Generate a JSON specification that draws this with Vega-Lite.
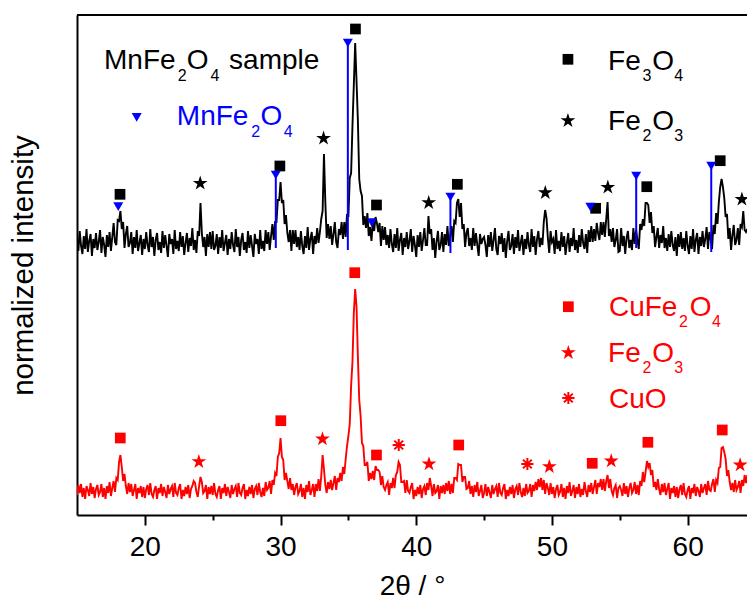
{
  "$schema": "https://vega.github.io/schema/vega-lite/v6.json",
  "width": 670,
  "height": 500,
  "autosize": {"type": "none"},
  "padding": {"left": 77, "top": 15, "right": 0, "bottom": 86},
  "background": "white",
  "config": {"view": {"stroke": null}, "font": "Liberation Sans"},
  "datasets": {
    "scan": [
      {"x":15.0,"k":277,"r":20},{"x":15.1,"k":264,"r":30},{"x":15.2,"k":284,"r":22},{"x":15.3,"k":269,"r":31},{"x":15.4,"k":261,"r":18},
      {"x":15.5,"k":279,"r":27},{"x":15.6,"k":266,"r":16},{"x":15.7,"k":286,"r":29},{"x":15.8,"k":263,"r":25},{"x":15.9,"k":274,"r":19},
      {"x":16.0,"k":281,"r":32},{"x":16.1,"k":259,"r":21},{"x":16.2,"k":276,"r":28},{"x":16.3,"k":267,"r":17},{"x":16.4,"k":282,"r":26},
      {"x":16.5,"k":265,"r":30},{"x":16.6,"k":273,"r":20},{"x":16.7,"k":285,"r":23},{"x":16.8,"k":262,"r":31},{"x":16.9,"k":278,"r":18},
      {"x":17.0,"k":270,"r":27},{"x":17.1,"k":258,"r":16},{"x":17.2,"k":280,"r":29},{"x":17.3,"k":268,"r":22},{"x":17.4,"k":283,"r":33},
      {"x":17.5,"k":264,"r":19},{"x":17.6,"k":278,"r":27},{"x":17.7,"k":292,"r":34},{"x":17.8,"k":273,"r":23},{"x":17.9,"k":270,"r":37},
      {"x":18.0,"k":295,"r":35},{"x":18.1,"k":294,"r":53},{"x":18.2,"k":304,"r":60},{"x":18.3,"k":286,"r":48},{"x":18.4,"k":293,"r":34},
      {"x":18.5,"k":267,"r":41},{"x":18.6,"k":281,"r":29},{"x":18.7,"k":289,"r":21},{"x":18.8,"k":268,"r":32},{"x":18.9,"k":272,"r":23},
      {"x":19.0,"k":283,"r":31},{"x":19.1,"k":261,"r":19},{"x":19.2,"k":278,"r":25},{"x":19.3,"k":267,"r":31},{"x":19.4,"k":285,"r":16},
      {"x":19.5,"k":264,"r":27},{"x":19.6,"k":272,"r":22},{"x":19.7,"k":280,"r":29},{"x":19.8,"k":260,"r":18},{"x":19.9,"k":276,"r":28},
      {"x":20.0,"k":266,"r":17},{"x":20.1,"k":283,"r":26},{"x":20.2,"k":270,"r":30},{"x":20.3,"k":263,"r":20},{"x":20.4,"k":286,"r":32},
      {"x":20.5,"k":268,"r":21},{"x":20.6,"k":278,"r":18},{"x":20.7,"k":259,"r":25},{"x":20.8,"k":275,"r":29},{"x":20.9,"k":282,"r":16},
      {"x":21.0,"k":265,"r":27},{"x":21.1,"k":273,"r":22},{"x":21.2,"k":262,"r":31},{"x":21.3,"k":284,"r":19},{"x":21.4,"k":267,"r":28},
      {"x":21.5,"k":280,"r":23},{"x":21.6,"k":269,"r":17},{"x":21.7,"k":258,"r":30},{"x":21.8,"k":281,"r":21},{"x":21.9,"k":271,"r":26},
      {"x":22.0,"k":276,"r":29},{"x":22.1,"k":261,"r":18},{"x":22.2,"k":285,"r":32},{"x":22.3,"k":266,"r":22},{"x":22.4,"k":274,"r":20},
      {"x":22.5,"k":264,"r":27},{"x":22.6,"k":283,"r":31},{"x":22.7,"k":268,"r":16},{"x":22.8,"k":279,"r":25},{"x":22.9,"k":260,"r":19},
      {"x":23.0,"k":272,"r":28},{"x":23.1,"k":282,"r":21},{"x":23.2,"k":263,"r":30},{"x":23.3,"k":277,"r":17},{"x":23.4,"k":269,"r":26},
      {"x":23.5,"k":287,"r":29},{"x":23.6,"k":265,"r":34},{"x":23.7,"k":275,"r":32},{"x":23.8,"k":262,"r":23},{"x":23.9,"k":284,"r":18},
      {"x":24.0,"k":279,"r":29},{"x":24.1,"k":312,"r":38},{"x":24.2,"k":282,"r":33},{"x":24.3,"k":268,"r":22},{"x":24.4,"k":278,"r":24},
      {"x":24.5,"k":259,"r":30},{"x":24.6,"k":281,"r":16},{"x":24.7,"k":268,"r":28},{"x":24.8,"k":283,"r":21},{"x":24.9,"k":266,"r":29},
      {"x":25.0,"k":284,"r":20},{"x":25.1,"k":265,"r":32},{"x":25.2,"k":269,"r":21},{"x":25.3,"k":281,"r":18},{"x":25.4,"k":261,"r":25},
      {"x":25.5,"k":278,"r":29},{"x":25.6,"k":267,"r":16},{"x":25.7,"k":285,"r":27},{"x":25.8,"k":264,"r":22},{"x":25.9,"k":272,"r":31},
      {"x":26.0,"k":280,"r":19},{"x":26.1,"k":260,"r":28},{"x":26.2,"k":276,"r":23},{"x":26.3,"k":266,"r":17},{"x":26.4,"k":283,"r":30},
      {"x":26.5,"k":270,"r":21},{"x":26.6,"k":263,"r":26},{"x":26.7,"k":286,"r":29},{"x":26.8,"k":268,"r":18},{"x":26.9,"k":278,"r":32},
      {"x":27.0,"k":259,"r":22},{"x":27.1,"k":275,"r":20},{"x":27.2,"k":282,"r":27},{"x":27.3,"k":265,"r":31},{"x":27.4,"k":273,"r":16},
      {"x":27.5,"k":262,"r":25},{"x":27.6,"k":284,"r":19},{"x":27.7,"k":267,"r":28},{"x":27.8,"k":280,"r":21},{"x":27.9,"k":269,"r":30},
      {"x":28.0,"k":258,"r":17},{"x":28.1,"k":281,"r":26},{"x":28.2,"k":271,"r":29},{"x":28.3,"k":276,"r":20},{"x":28.4,"k":261,"r":32},
      {"x":28.5,"k":285,"r":23},{"x":28.6,"k":266,"r":18},{"x":28.7,"k":274,"r":27},{"x":28.8,"k":264,"r":19},{"x":28.9,"k":285,"r":33},
      {"x":29.0,"k":271,"r":25},{"x":29.1,"k":283,"r":27},{"x":29.2,"k":265,"r":34},{"x":29.3,"k":279,"r":21},{"x":29.4,"k":291,"r":35},
      {"x":29.5,"k":275,"r":30},{"x":29.6,"k":293,"r":42},{"x":29.7,"k":293,"r":39},{"x":29.8,"k":315,"r":58},{"x":29.9,"k":315,"r":62},
      {"x":30.0,"k":333,"r":77},{"x":30.1,"k":312,"r":58},{"x":30.2,"k":315,"r":55},{"x":30.3,"k":291,"r":35},{"x":30.4,"k":300,"r":42},
      {"x":30.5,"k":282,"r":34},{"x":30.6,"k":273,"r":26},{"x":30.7,"k":285,"r":37},{"x":30.8,"k":264,"r":25},{"x":30.9,"k":285,"r":31},
      {"x":31.0,"k":271,"r":20},{"x":31.1,"k":285,"r":28},{"x":31.2,"k":268,"r":32},{"x":31.3,"k":278,"r":21},{"x":31.4,"k":265,"r":24},
      {"x":31.5,"k":284,"r":31},{"x":31.6,"k":269,"r":18},{"x":31.7,"k":261,"r":27},{"x":31.8,"k":279,"r":16},{"x":31.9,"k":267,"r":30},
      {"x":32.0,"k":288,"r":23},{"x":32.1,"k":265,"r":34},{"x":32.2,"k":276,"r":20},{"x":32.3,"k":283,"r":25},{"x":32.4,"k":261,"r":31},
      {"x":32.5,"k":279,"r":18},{"x":32.6,"k":271,"r":31},{"x":32.7,"k":287,"r":24},{"x":32.8,"k":272,"r":36},{"x":32.9,"k":283,"r":24},
      {"x":33.0,"k":296,"r":39},{"x":33.1,"k":304,"r":60},{"x":33.2,"k":361,"r":46},{"x":33.3,"k":313,"r":30},{"x":33.4,"k":277,"r":22},
      {"x":33.5,"k":291,"r":33},{"x":33.6,"k":276,"r":26},{"x":33.7,"k":289,"r":35},{"x":33.8,"k":270,"r":25},{"x":33.9,"k":281,"r":32},
      {"x":34.0,"k":293,"r":39},{"x":34.1,"k":273,"r":25},{"x":34.2,"k":267,"r":37},{"x":34.3,"k":286,"r":33},{"x":34.4,"k":280,"r":42},
      {"x":34.5,"k":293,"r":34},{"x":34.6,"k":276,"r":48},{"x":34.7,"k":293,"r":41},{"x":34.8,"k":278,"r":56},{"x":34.9,"k":301,"r":69},
      {"x":35.0,"k":298,"r":79},{"x":35.1,"k":337,"r":91},{"x":35.2,"k":342,"r":129},{"x":35.3,"k":389,"r":153},{"x":35.4,"k":430,"r":202},
      {"x":35.5,"k":472,"r":226},{"x":35.6,"k":434,"r":208},{"x":35.7,"k":394,"r":158},{"x":35.8,"k":336,"r":115},{"x":35.9,"k":324,"r":99},
      {"x":36.0,"k":319,"r":72},{"x":36.1,"k":290,"r":69},{"x":36.2,"k":299,"r":50},{"x":36.3,"k":287,"r":50},{"x":36.4,"k":302,"r":53},
      {"x":36.5,"k":279,"r":34},{"x":36.6,"k":288,"r":42},{"x":36.7,"k":274,"r":36},{"x":36.8,"k":293,"r":44},{"x":36.9,"k":284,"r":35},
      {"x":37.0,"k":298,"r":49},{"x":37.1,"k":292,"r":45},{"x":37.2,"k":283,"r":45},{"x":37.3,"k":292,"r":43},{"x":37.4,"k":269,"r":30},
      {"x":37.5,"k":289,"r":39},{"x":37.6,"k":275,"r":28},{"x":37.7,"k":288,"r":25},{"x":37.8,"k":270,"r":30},{"x":37.9,"k":280,"r":33},
      {"x":38.0,"k":267,"r":20},{"x":38.1,"k":286,"r":32},{"x":38.2,"k":271,"r":27},{"x":38.3,"k":263,"r":37},{"x":38.4,"k":281,"r":27},
      {"x":38.5,"k":267,"r":40},{"x":38.6,"k":287,"r":43},{"x":38.7,"k":264,"r":53},{"x":38.8,"k":275,"r":50},{"x":38.9,"k":282,"r":33},
      {"x":39.0,"k":260,"r":33},{"x":39.1,"k":277,"r":34},{"x":39.2,"k":268,"r":22},{"x":39.3,"k":283,"r":35},{"x":39.4,"k":266,"r":24},
      {"x":39.5,"k":274,"r":22},{"x":39.6,"k":286,"r":28},{"x":39.7,"k":263,"r":32},{"x":39.8,"k":279,"r":16},{"x":39.9,"k":270,"r":25},
      {"x":40.0,"k":258,"r":19},{"x":40.1,"k":280,"r":28},{"x":40.2,"k":268,"r":21},{"x":40.3,"k":283,"r":30},{"x":40.4,"k":264,"r":17},
      {"x":40.5,"k":275,"r":26},{"x":40.6,"k":287,"r":29},{"x":40.7,"k":270,"r":20},{"x":40.8,"k":270,"r":32},{"x":40.9,"k":299,"r":25},
      {"x":41.0,"k":281,"r":37},{"x":41.1,"k":286,"r":29},{"x":41.2,"k":265,"r":19},{"x":41.3,"k":277,"r":31},{"x":41.4,"k":257,"r":22},
      {"x":41.5,"k":274,"r":24},{"x":41.6,"k":284,"r":30},{"x":41.7,"k":265,"r":16},{"x":41.8,"k":270,"r":29},{"x":41.9,"k":283,"r":22},
      {"x":42.0,"k":263,"r":30},{"x":42.1,"k":281,"r":21},{"x":42.2,"k":270,"r":32},{"x":42.3,"k":289,"r":24},{"x":42.4,"k":269,"r":34},
      {"x":42.5,"k":279,"r":21},{"x":42.6,"k":289,"r":31},{"x":42.7,"k":273,"r":22},{"x":42.8,"k":294,"r":37},{"x":42.9,"k":292,"r":37},
      {"x":43.0,"k":312,"r":35},{"x":43.1,"k":316,"r":51},{"x":43.2,"k":298,"r":50},{"x":43.3,"k":312,"r":50},{"x":43.4,"k":286,"r":33},
      {"x":43.5,"k":291,"r":38},{"x":43.6,"k":268,"r":38},{"x":43.7,"k":282,"r":26},{"x":43.8,"k":287,"r":27},{"x":43.9,"k":269,"r":34},
      {"x":44.0,"k":277,"r":21},{"x":44.1,"k":265,"r":29},{"x":44.2,"k":287,"r":18},{"x":44.3,"k":269,"r":30},{"x":44.4,"k":282,"r":23},
      {"x":44.5,"k":270,"r":33},{"x":44.6,"k":259,"r":19},{"x":44.7,"k":281,"r":24},{"x":44.8,"k":271,"r":30},{"x":44.9,"k":276,"r":17},
      {"x":45.0,"k":278,"r":22},{"x":45.1,"k":270,"r":31},{"x":45.2,"k":258,"r":19},{"x":45.3,"k":280,"r":28},{"x":45.4,"k":268,"r":23},
      {"x":45.5,"k":283,"r":17},{"x":45.6,"k":264,"r":30},{"x":45.7,"k":275,"r":21},{"x":45.8,"k":287,"r":26},{"x":45.9,"k":266,"r":29},
      {"x":46.0,"k":260,"r":18},{"x":46.1,"k":279,"r":32},{"x":46.2,"k":271,"r":22},{"x":46.3,"k":282,"r":20},{"x":46.4,"k":263,"r":27},
      {"x":46.5,"k":277,"r":31},{"x":46.6,"k":257,"r":16},{"x":46.7,"k":274,"r":25},{"x":46.8,"k":284,"r":19},{"x":46.9,"k":265,"r":28},
      {"x":47.0,"k":269,"r":21},{"x":47.1,"k":281,"r":30},{"x":47.2,"k":261,"r":17},{"x":47.3,"k":278,"r":26},{"x":47.4,"k":267,"r":29},
      {"x":47.5,"k":285,"r":20},{"x":47.6,"k":264,"r":32},{"x":47.7,"k":272,"r":23},{"x":47.8,"k":280,"r":18},{"x":47.9,"k":260,"r":27},
      {"x":48.0,"k":276,"r":19},{"x":48.1,"k":266,"r":31},{"x":48.2,"k":283,"r":22},{"x":48.3,"k":270,"r":24},{"x":48.4,"k":263,"r":31},
      {"x":48.5,"k":286,"r":18},{"x":48.6,"k":268,"r":30},{"x":48.7,"k":279,"r":24},{"x":48.8,"k":260,"r":33},{"x":48.9,"k":276,"r":25},
      {"x":49.0,"k":284,"r":36},{"x":49.1,"k":268,"r":28},{"x":49.2,"k":277,"r":37},{"x":49.3,"k":270,"r":25},{"x":49.4,"k":293,"r":35},
      {"x":49.5,"k":305,"r":21},{"x":49.6,"k":297,"r":32},{"x":49.7,"k":277,"r":27},{"x":49.8,"k":262,"r":20},{"x":49.9,"k":284,"r":32},
      {"x":50.0,"k":273,"r":21},{"x":50.1,"k":276,"r":28},{"x":50.2,"k":261,"r":17},{"x":50.3,"k":285,"r":26},{"x":50.4,"k":266,"r":30},
      {"x":50.5,"k":274,"r":20},{"x":50.6,"k":264,"r":23},{"x":50.7,"k":283,"r":31},{"x":50.8,"k":268,"r":18},{"x":50.9,"k":279,"r":27},
      {"x":51.0,"k":260,"r":16},{"x":51.1,"k":272,"r":29},{"x":51.2,"k":282,"r":22},{"x":51.3,"k":263,"r":33},{"x":51.4,"k":277,"r":19},
      {"x":51.5,"k":269,"r":24},{"x":51.6,"k":287,"r":30},{"x":51.7,"k":265,"r":17},{"x":51.8,"k":275,"r":28},{"x":51.9,"k":262,"r":21},
      {"x":52.0,"k":280,"r":31},{"x":52.1,"k":268,"r":18},{"x":52.2,"k":286,"r":26},{"x":52.3,"k":272,"r":20},{"x":52.4,"k":266,"r":33},
      {"x":52.5,"k":281,"r":24},{"x":52.6,"k":262,"r":18},{"x":52.7,"k":285,"r":30},{"x":52.8,"k":273,"r":23},{"x":52.9,"k":289,"r":32},
      {"x":53.0,"k":273,"r":21},{"x":53.1,"k":286,"r":28},{"x":53.2,"k":274,"r":35},{"x":53.3,"k":292,"r":21},{"x":53.4,"k":282,"r":32},
      {"x":53.5,"k":275,"r":28},{"x":53.6,"k":293,"r":36},{"x":53.7,"k":280,"r":25},{"x":53.8,"k":293,"r":36},{"x":53.9,"k":278,"r":24},
      {"x":54.0,"k":296,"r":34},{"x":54.1,"k":313,"r":40},{"x":54.2,"k":279,"r":27},{"x":54.3,"k":286,"r":36},{"x":54.4,"k":273,"r":24},
      {"x":54.5,"k":287,"r":20},{"x":54.6,"k":268,"r":27},{"x":54.7,"k":275,"r":30},{"x":54.8,"k":286,"r":17},{"x":54.9,"k":263,"r":27},
      {"x":55.0,"k":264,"r":29},{"x":55.1,"k":287,"r":25},{"x":55.2,"k":269,"r":19},{"x":55.3,"k":279,"r":32},{"x":55.4,"k":261,"r":21},
      {"x":55.5,"k":277,"r":29},{"x":55.6,"k":284,"r":18},{"x":55.7,"k":267,"r":27},{"x":55.8,"k":275,"r":32},{"x":55.9,"k":265,"r":22},
      {"x":56.0,"k":287,"r":25},{"x":56.1,"k":271,"r":33},{"x":56.2,"k":285,"r":21},{"x":56.3,"k":275,"r":30},{"x":56.4,"k":266,"r":20},
      {"x":56.5,"k":291,"r":34},{"x":56.6,"k":285,"r":29},{"x":56.7,"k":296,"r":43},{"x":56.8,"k":289,"r":33},{"x":56.9,"k":312,"r":43},
      {"x":57.0,"k":312,"r":54},{"x":57.1,"k":310,"r":48},{"x":57.2,"k":292,"r":52},{"x":57.3,"k":303,"r":40},{"x":57.4,"k":282,"r":45},
      {"x":57.5,"k":289,"r":28},{"x":57.6,"k":268,"r":33},{"x":57.7,"k":278,"r":25},{"x":57.8,"k":287,"r":36},{"x":57.9,"k":267,"r":26},
      {"x":58.0,"k":280,"r":20},{"x":58.1,"k":272,"r":31},{"x":58.2,"k":289,"r":23},{"x":58.3,"k":267,"r":32},{"x":58.4,"k":277,"r":20},
      {"x":58.5,"k":264,"r":26},{"x":58.6,"k":281,"r":32},{"x":58.7,"k":268,"r":16},{"x":58.8,"k":284,"r":27},{"x":58.9,"k":270,"r":22},
      {"x":59.0,"k":264,"r":29},{"x":59.1,"k":278,"r":18},{"x":59.2,"k":259,"r":28},{"x":59.3,"k":281,"r":17},{"x":59.4,"k":268,"r":26},
      {"x":59.5,"k":283,"r":30},{"x":59.6,"k":266,"r":20},{"x":59.7,"k":277,"r":32},{"x":59.8,"k":264,"r":21},{"x":59.9,"k":284,"r":18},
      {"x":60.0,"k":269,"r":25},{"x":60.1,"k":261,"r":29},{"x":60.2,"k":279,"r":16},{"x":60.3,"k":266,"r":27},{"x":60.4,"k":286,"r":22},
      {"x":60.5,"k":263,"r":31},{"x":60.6,"k":275,"r":19},{"x":60.7,"k":282,"r":28},{"x":60.8,"k":261,"r":24},{"x":60.9,"k":278,"r":18},
      {"x":61.0,"k":269,"r":31},{"x":61.1,"k":284,"r":22},{"x":61.2,"k":268,"r":27},{"x":61.3,"k":276,"r":31},{"x":61.4,"k":288,"r":20},
      {"x":61.5,"k":266,"r":34},{"x":61.6,"k":283,"r":25},{"x":61.7,"k":276,"r":24},{"x":61.8,"k":266,"r":31},{"x":61.9,"k":290,"r":36},
      {"x":62.0,"k":281,"r":23},{"x":62.1,"k":302,"r":35},{"x":62.2,"k":291,"r":32},{"x":62.3,"k":313,"r":47},{"x":62.4,"k":328,"r":48},
      {"x":62.5,"k":336,"r":67},{"x":62.6,"k":328,"r":68},{"x":62.7,"k":317,"r":63},{"x":62.8,"k":298,"r":56},{"x":62.9,"k":301,"r":39},
      {"x":63.0,"k":276,"r":45},{"x":63.1,"k":287,"r":33},{"x":63.2,"k":265,"r":25},{"x":63.3,"k":280,"r":32},{"x":63.4,"k":290,"r":23},
      {"x":63.5,"k":270,"r":35},{"x":63.6,"k":275,"r":25},{"x":63.7,"k":287,"r":28},{"x":63.8,"k":270,"r":34},{"x":63.9,"k":291,"r":22},
      {"x":64.0,"k":288,"r":35},{"x":64.1,"k":304,"r":29},{"x":64.2,"k":285,"r":40},{"x":64.3,"k":283,"r":32},{"x":64.4,"k":286,"r":40}
    ],
    "refs": [
      {"x":29.65,"lo":267,"hi":340},
      {"x":34.96,"lo":265,"hi":472},
      {"x":42.52,"lo":262,"hi":318},
      {"x":56.21,"lo":267,"hi":339},
      {"x":61.74,"lo":263,"hi":349}
    ],
    "peaks": [
      {"x":18.17,"y":320.7,"ph":"Fe3O4","g":"mn"},
      {"x":29.95,"y":349,"ph":"Fe3O4","g":"mn"},
      {"x":35.52,"y":486,"ph":"Fe3O4","g":"mn"},
      {"x":37.07,"y":310,"ph":"Fe3O4","g":"mn"},
      {"x":43.03,"y":330.7,"ph":"Fe3O4","g":"mn"},
      {"x":53.22,"y":306.7,"ph":"Fe3O4","g":"mn"},
      {"x":56.99,"y":328.3,"ph":"Fe3O4","g":"mn"},
      {"x":62.40,"y":354.3,"ph":"Fe3O4","g":"mn"},
      {"x":24.08,"y":331.7,"ph":"Fe2O3","g":"mn"},
      {"x":33.17,"y":376.7,"ph":"Fe2O3","g":"mn"},
      {"x":40.92,"y":312.3,"ph":"Fe2O3","g":"mn"},
      {"x":49.51,"y":322.3,"ph":"Fe2O3","g":"mn"},
      {"x":54.12,"y":327.7,"ph":"Fe2O3","g":"mn"},
      {"x":64.0,"y":315.7,"ph":"Fe2O3","g":"mn"},
      {"x":18.04,"y":308.3,"ph":"MnFe2O4","g":"ref"},
      {"x":29.65,"y":340,"ph":"MnFe2O4","g":"ref"},
      {"x":34.96,"y":472,"ph":"MnFe2O4","g":"ref"},
      {"x":36.72,"y":292.3,"ph":"MnFe2O4","g":"ref"},
      {"x":42.52,"y":318,"ph":"MnFe2O4","g":"ref"},
      {"x":52.83,"y":308,"ph":"MnFe2O4","g":"ref"},
      {"x":56.21,"y":339,"ph":"MnFe2O4","g":"ref"},
      {"x":61.74,"y":349,"ph":"MnFe2O4","g":"ref"},
      {"x":18.19,"y":77,"ph":"CuFe2O4","g":"cu"},
      {"x":30.02,"y":94.3,"ph":"CuFe2O4","g":"cu"},
      {"x":35.47,"y":242.3,"ph":"CuFe2O4","g":"cu"},
      {"x":37.07,"y":60,"ph":"CuFe2O4","g":"cu"},
      {"x":43.13,"y":70,"ph":"CuFe2O4","g":"cu"},
      {"x":52.97,"y":51.7,"ph":"CuFe2O4","g":"cu"},
      {"x":57.07,"y":72.7,"ph":"CuFe2O4","g":"cu"},
      {"x":62.55,"y":85,"ph":"CuFe2O4","g":"cu"},
      {"x":23.98,"y":53.3,"ph":"Fe2O3","g":"cu"},
      {"x":33.09,"y":76,"ph":"Fe2O3","g":"cu"},
      {"x":40.94,"y":51,"ph":"Fe2O3","g":"cu"},
      {"x":49.81,"y":48.3,"ph":"Fe2O3","g":"cu"},
      {"x":54.37,"y":54,"ph":"Fe2O3","g":"cu"},
      {"x":63.87,"y":50,"ph":"Fe2O3","g":"cu"},
      {"x":38.71,"y":70,"ph":"CuO","g":"cu"},
      {"x":48.19,"y":51,"ph":"CuO","g":"cu"},
      {"x":19.40,"y":397.7,"ph":"MnFe2O4","g":"ref"},
      {"x":51.18,"y":455.7,"ph":"Fe3O4","g":"mn"},
      {"x":51.18,"y":394.3,"ph":"Fe2O3","g":"mn"},
      {"x":51.21,"y":208.3,"ph":"CuFe2O4","g":"cu"},
      {"x":51.21,"y":162.3,"ph":"Fe2O3","g":"cu"},
      {"x":51.21,"y":117,"ph":"CuO","g":"cu"}
    ],
    "labels": [
      {"x":16.99,"y":446,"s":"MnFe","g":"mn","lvl":"main"},
      {"x":22.42,"y":434.3,"s":"2","g":"mn","lvl":"sub"},
      {"x":23.09,"y":446,"s":"O","g":"mn","lvl":"main"},
      {"x":24.83,"y":434.3,"s":"4","g":"mn","lvl":"sub"},
      {"x":26.21,"y":446,"s":"sample","g":"mn","lvl":"main"},
      {"x":22.36,"y":390,"s":"MnFe","g":"ref","lvl":"main"},
      {"x":27.85,"y":378.3,"s":"2","g":"ref","lvl":"sub"},
      {"x":28.52,"y":390,"s":"O","g":"ref","lvl":"main"},
      {"x":30.23,"y":378.3,"s":"4","g":"ref","lvl":"sub"},
      {"x":54.14,"y":445,"s":"Fe","g":"mn","lvl":"main"},
      {"x":56.68,"y":434.3,"s":"3","g":"mn","lvl":"sub"},
      {"x":57.39,"y":445,"s":"O","g":"mn","lvl":"main"},
      {"x":59.02,"y":434.3,"s":"4","g":"mn","lvl":"sub"},
      {"x":54.14,"y":385,"s":"Fe","g":"mn","lvl":"main"},
      {"x":56.68,"y":374,"s":"2","g":"mn","lvl":"sub"},
      {"x":57.39,"y":385,"s":"O","g":"mn","lvl":"main"},
      {"x":59.02,"y":374,"s":"3","g":"mn","lvl":"sub"},
      {"x":54.20,"y":199,"s":"CuFe","g":"cu","lvl":"main"},
      {"x":59.37,"y":187.7,"s":"2","g":"cu","lvl":"sub"},
      {"x":60.16,"y":199,"s":"O","g":"cu","lvl":"main"},
      {"x":61.80,"y":187.7,"s":"4","g":"cu","lvl":"sub"},
      {"x":54.14,"y":153.3,"s":"Fe","g":"cu","lvl":"main"},
      {"x":56.68,"y":142.3,"s":"2","g":"cu","lvl":"sub"},
      {"x":57.39,"y":153.3,"s":"O","g":"cu","lvl":"main"},
      {"x":59.02,"y":142.3,"s":"3","g":"cu","lvl":"sub"},
      {"x":54.20,"y":107,"s":"CuO","g":"cu","lvl":"main"}
    ]
  },
  "layer": [
    {
      "data": {"name": "scan"},
      "mark": {"type": "line", "color": "#000000", "strokeWidth": 1.9, "clip": true},
      "encoding": {
        "x": {
          "field": "x", "type": "quantitative", "title": "2θ / °",
          "scale": {"domain": [15, 64.375], "nice": false, "zero": false},
          "axis": {
            "values": [20, 25, 30, 35, 40, 45, 50, 55, 60],
            "labelExpr": "datum.value % 10 === 0 ? datum.label : ''",
            "tickSize": {"condition": {"test": "datum.value % 10 === 0", "value": 10}, "value": 5},
            "tickWidth": 2, "tickColor": "#000000",
            "domainColor": "#000000", "domainWidth": 2,
            "grid": false,
            "labelFont": "Liberation Sans", "labelFontSize": 28, "labelColor": "#000000",
            "labelPadding": 8, "labelFlush": false, "labelOverlap": false,
            "titleFont": "Liberation Sans", "titleFontSize": 28, "titleFontWeight": "normal",
            "titleColor": "#000000", "titleBaseline": "alphabetic", "titleY": 79
          }
        },
        "y": {
          "field": "k", "type": "quantitative", "title": "normalized intensity",
          "scale": {"domain": [0, 500], "nice": false, "zero": false},
          "axis": {
            "labels": false, "ticks": false, "grid": false,
            "domainColor": "#000000", "domainWidth": 2,
            "titleFont": "Liberation Sans", "titleFontSize": 29.5, "titleFontWeight": "normal",
            "titleColor": "#000000", "titleBaseline": "alphabetic", "titleAlign": "center",
            "titleAngle": 270, "titleX": -45, "titleY": 250
          }
        }
      }
    },
    {
      "data": {"name": "scan"},
      "mark": {"type": "line", "color": "#ff0000", "strokeWidth": 1.9, "clip": true},
      "encoding": {
        "x": {"field": "x", "type": "quantitative", "title": "2θ / °"},
        "y": {"field": "r", "type": "quantitative", "title": "normalized intensity"}
      }
    },
    {
      "data": {"name": "refs"},
      "mark": {"type": "rule", "color": "#0000ff", "strokeWidth": 2},
      "encoding": {
        "x": {"field": "x", "type": "quantitative", "title": "2θ / °"},
        "y": {"field": "lo", "type": "quantitative", "title": "normalized intensity"},
        "y2": {"field": "hi"}
      }
    },
    {
      "data": {"name": "peaks"},
      "transform": [{"filter": "datum.ph === 'Fe3O4' || datum.ph === 'CuFe2O4'"}],
      "mark": {"type": "point", "shape": "square", "filled": true, "opacity": 1, "size": 115, "strokeWidth": 0},
      "encoding": {
        "x": {"field": "x", "type": "quantitative", "title": "2θ / °"},
        "y": {"field": "y", "type": "quantitative", "title": "normalized intensity"},
        "color": {"field": "g", "type": "nominal", "legend": null,
          "scale": {"domain": ["mn", "ref", "cu"], "range": ["#000000", "#0000ff", "#ff0000"]}}
      }
    },
    {
      "data": {"name": "peaks"},
      "transform": [{"filter": "datum.ph === 'Fe2O3'"}],
      "mark": {"type": "point", "shape": "M0,-1L0.225,-0.309L0.951,-0.309L0.363,0.118L0.588,0.809L0,0.382L-0.588,0.809L-0.363,0.118L-0.951,-0.309L-0.225,-0.309Z", "filled": true, "opacity": 1, "size": 240, "strokeWidth": 0},
      "encoding": {
        "x": {"field": "x", "type": "quantitative", "title": "2θ / °"},
        "y": {"field": "y", "type": "quantitative", "title": "normalized intensity"},
        "color": {"field": "g", "type": "nominal", "legend": null}
      }
    },
    {
      "data": {"name": "peaks"},
      "transform": [{"filter": "datum.ph === 'MnFe2O4'"}],
      "mark": {"type": "point", "shape": "triangle-down", "filled": true, "opacity": 1, "size": 100, "strokeWidth": 0},
      "encoding": {
        "x": {"field": "x", "type": "quantitative", "title": "2θ / °"},
        "y": {"field": "y", "type": "quantitative", "title": "normalized intensity"},
        "color": {"field": "g", "type": "nominal", "legend": null}
      }
    },
    {
      "data": {"name": "peaks"},
      "transform": [{"filter": "datum.ph === 'CuO'"}],
      "mark": {"type": "point", "shape": "M-1,0L1,0M0,-1L0,1M-0.72,-0.72L0.72,0.72M-0.72,0.72L0.72,-0.72", "filled": false, "opacity": 1, "size": 150, "strokeWidth": 2},
      "encoding": {
        "x": {"field": "x", "type": "quantitative", "title": "2θ / °"},
        "y": {"field": "y", "type": "quantitative", "title": "normalized intensity"},
        "color": {"field": "g", "type": "nominal", "legend": null}
      }
    },
    {
      "data": {"name": "labels"},
      "transform": [{"filter": "datum.lvl === 'main'"}],
      "mark": {"type": "text", "align": "left", "baseline": "alphabetic", "font": "Liberation Sans", "fontSize": 28},
      "encoding": {
        "x": {"field": "x", "type": "quantitative", "title": "2θ / °"},
        "y": {"field": "y", "type": "quantitative", "title": "normalized intensity"},
        "text": {"field": "s"},
        "color": {"field": "g", "type": "nominal", "legend": null}
      }
    },
    {
      "data": {"name": "labels"},
      "transform": [{"filter": "datum.lvl === 'sub'"}],
      "mark": {"type": "text", "align": "left", "baseline": "alphabetic", "font": "Liberation Sans", "fontSize": 16},
      "encoding": {
        "x": {"field": "x", "type": "quantitative", "title": "2θ / °"},
        "y": {"field": "y", "type": "quantitative", "title": "normalized intensity"},
        "text": {"field": "s"},
        "color": {"field": "g", "type": "nominal", "legend": null}
      }
    },
    {
      "data": {"values": [{}]},
      "mark": {"type": "rule", "color": "#000000", "strokeWidth": 2},
      "encoding": {
        "y": {"datum": 500, "type": "quantitative", "title": "normalized intensity"}
      }
    }
  ]
}
